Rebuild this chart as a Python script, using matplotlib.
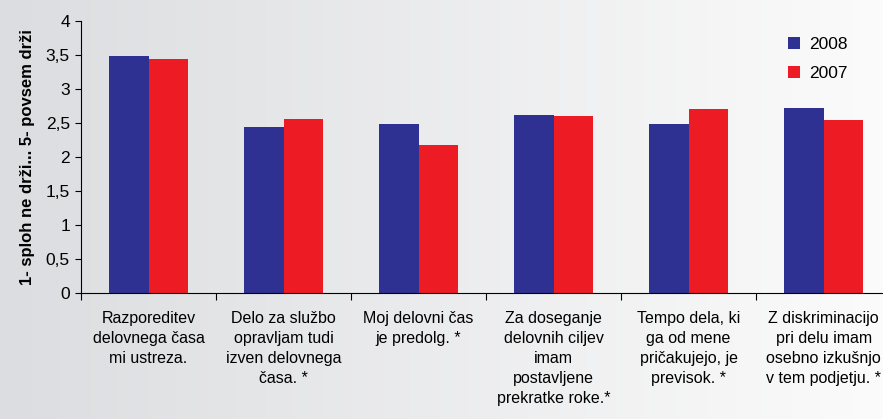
import numpy as np
import matplotlib
matplotlib.use("Agg")
from matplotlib import pyplot as plt
from matplotlib.ticker import FixedLocator, FuncFormatter
from matplotlib.colors import LinearSegmentedColormap

plt.rcParams['font.family'] = ['Liberation Sans', 'DejaVu Sans']

# podatki
categories = [
    "Razporeditev\ndelovnega časa\nmi ustreza.",
    "Delo za službo\nopravljam tudi\nizven delovnega\nčasa. *",
    "Moj delovni čas\nje predolg. *",
    "Za doseganje\ndelovnih ciljev\nimam\npostavljene\nprekratke roke.*",
    "Tempo dela, ki\nga od mene\npričakujejo, je\nprevisok. *",
    "Z diskriminacijo\npri delu imam\nosebno izkušnjo\nv tem podjetju. *",
]
series_names = ["2008", "2007"]
values_2008 = [3.49, 2.44, 2.49, 2.62, 2.49, 2.72]
values_2007 = [3.44, 2.56, 2.18, 2.60, 2.71, 2.54]
yticks = [0, 0.5, 1, 1.5, 2, 2.5, 3, 3.5, 4]

blue = "#2e3092"
red = "#ed1c24"

fig = plt.figure(figsize=(8.83, 4.19), dpi=100)

# sivo ozadje s prelivom
bg = fig.add_axes([0, 0, 1, 1], zorder=-10)
grad = np.linspace(0, 1, 256).reshape(1, -1)
cmap = LinearSegmentedColormap.from_list("bg", ["#dcdde0", "#fbfbfb"])
bg.imshow(grad, aspect="auto", cmap=cmap, extent=[0, 1, 0, 1])
bg.axis("off")

ax = fig.add_axes([81 / 883, 1 - 293 / 419, 802 / 883, 272 / 419])
ax.patch.set_alpha(0)

x = np.arange(len(categories))
w = 0.29
ax.bar(x - w / 2, values_2008, w, color=blue, label=series_names[0])
ax.bar(x + w / 2, values_2007, w, color=red, label=series_names[1])

ax.set_ylim(0, 4)
ax.set_xlim(-0.5, len(categories) - 0.56)
ax.set_yticks(yticks)
ax.yaxis.set_major_formatter(FuncFormatter(lambda v, p: f"{v:g}".replace(".", ",")))
ax.tick_params(axis="y", labelsize=12.5, length=4, width=0.8, pad=4)

ax.set_xticks(x)
ax.set_xticklabels(categories, fontsize=11.5, linespacing=1.42)
ax.tick_params(axis="x", which="major", length=0, pad=13)
ax.xaxis.set_minor_locator(FixedLocator(np.arange(0, len(categories)) - 0.5))
ax.tick_params(axis="x", which="minor", length=5, width=0.8)

for s in ["top", "right"]:
    ax.spines[s].set_visible(False)
for s in ["left", "bottom"]:
    ax.spines[s].set_linewidth(0.8)

ax.set_ylabel("1- sploh ne drži... 5- povsem drži", fontsize=12, fontweight="bold", labelpad=8)

ax.legend(loc="upper right", bbox_to_anchor=(0.975, 1.0), frameon=False, fontsize=12.5,
          handlelength=0.7, handleheight=0.7, handletextpad=0.5, labelspacing=0.8)

fig.savefig("out.png", dpi=100)
